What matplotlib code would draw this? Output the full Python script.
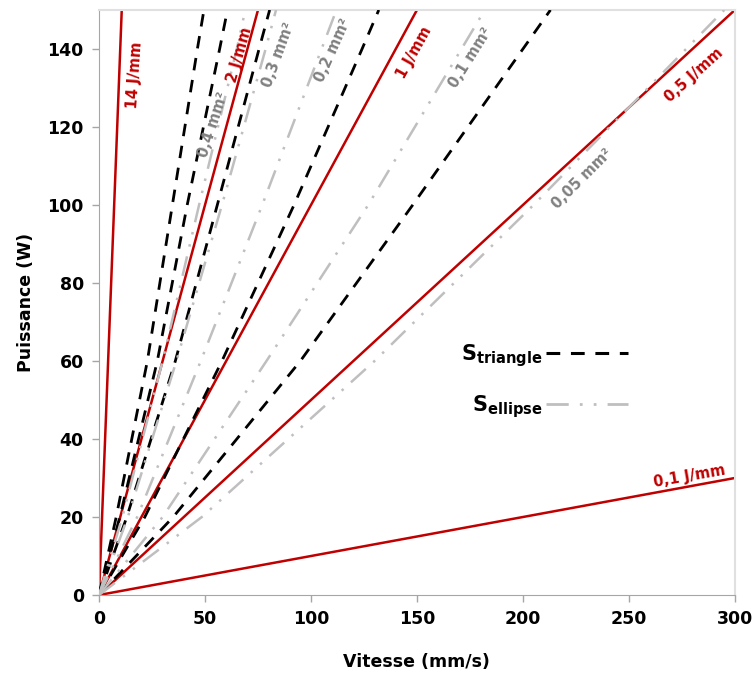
import matplotlib
matplotlib.use('Agg')
import matplotlib.pyplot as plt
from matplotlib.lines import Line2D

# power levels (W) at which the iso-area curves were read
P_levels = [0, 20, 60, 100, 140, 150]

# speed (mm/s) read at each power level, triangle model
tri_04 = [0, 8.1, 22.8, 34.6, 46.4, 49.5]
tri_03 = [0, 9.8, 27.5, 41.6, 56.9, 60.6]
tri_02 = [0, 13.1, 36.0, 55.8, 75.5, 80.5]
tri_01 = [0, 21.6, 58.0, 92.0, 124.1, 132.0]
tri_005 = [0, 35.0, 95.0, 148.0, 200.0, 213.0]

# same for the ellipse model
ell_04 = [0, 11.0, 30.0, 47.2, 65.0, 69.0]
ell_03 = [0, 13.6, 36.5, 58.0, 78.6, 83.5]
ell_02 = [0, 18.0, 48.0, 77.0, 105.0, 112.0]
ell_01 = [0, 30.0, 79.0, 127.0, 171.0, 182.0]
ell_005 = [0, 48.5, 130.0, 205.0, 277.0, 295.0]

# linear energy lines (J/mm)
energies = [14, 2, 1, 0.5, 0.1]
v_range = [0, 300]

red = '#c00000'
grey_line = '#bfbfbf'
grey_text = '#808080'
tri_style = (0, (4.5, 3.5))
ell_style = (0, (8, 4, 1, 4, 1, 4))

fig = plt.figure(figsize=(7.56, 6.75), dpi=100)
ax = fig.add_axes([0.131, 0.1185, 0.841, 0.8667])

for E in energies:
    ax.plot(v_range, [E * v for v in v_range], color=red, lw=1.8, zorder=2)

for v in [tri_04, tri_03, tri_02, tri_01, tri_005]:
    ax.plot(v, P_levels, color='black', lw=2.0, ls=tri_style, zorder=3)

for v in [ell_04, ell_03, ell_02, ell_01, ell_005]:
    ax.plot(v, P_levels, color=grey_line, lw=1.8, ls=ell_style, zorder=4)

# labels along the lines
red_labels = [('14 J/mm', 17, 133.3, 86),
              ('2 J/mm', 66.5, 138.5, 74),
              ('1 J/mm', 148.6, 139, 61),
              ('0,5 J/mm', 280.7, 133.3, 42),
              ('0,1 J/mm', 278.8, 30.5, 10)]
for txt, x, y, rot in red_labels:
    ax.text(x, y, txt, color=red, fontsize=10.5, fontweight='bold',
            rotation=rot, ha='center', va='center', zorder=5)

grey_labels = [('0,4 mm²', 53.8, 120.5, 72),
               ('0,3 mm²', 84.9, 138.5, 70),
               ('0,2 mm²', 110.4, 139.7, 66),
               ('0,1 mm²', 175.5, 137.7, 58),
               ('0,05 mm²', 227.8, 106.7, 45)]
for txt, x, y, rot in grey_labels:
    ax.text(x, y, txt, color=grey_text, fontsize=10.5, fontweight='bold',
            rotation=rot, ha='center', va='center', zorder=5)

handles = [Line2D([], [], color='black', lw=2.2, ls=tri_style),
           Line2D([], [], color=grey_line, lw=2.0, ls=ell_style)]
labels = [r'$\mathbf{S}_{\mathbf{triangle}}$', r'$\mathbf{S}_{\mathbf{ellipse}}$']
ax.legend(handles, labels, loc='center', bbox_to_anchor=(0.7, 0.366),
          markerfirst=False, frameon=False, fontsize=15, handlelength=3.9,
          handletextpad=0.2, labelspacing=1.15)

ax.set_xlim(0, 300)
ax.set_ylim(0, 150)
ax.set_xticks(range(0, 301, 50))
ax.set_yticks(range(0, 141, 20))
for lab in ax.get_xticklabels() + ax.get_yticklabels():
    lab.set_fontweight('bold')
ax.tick_params(labelsize=12.5, color='#a6a6a6', length=5, width=1, pad=6)

ax.set_xlabel('Vitesse (mm/s)', fontsize=12.5, fontweight='bold', labelpad=18)
ax.set_ylabel('Puissance (W)', fontsize=12.5, fontweight='bold', labelpad=9)

for s in ['left', 'bottom']:
    ax.spines[s].set_color('#a6a6a6')
for s in ['top', 'right']:
    ax.spines[s].set_color('#e0e0e0')
    ax.spines[s].set_linewidth(1.5)

fig.savefig('out.png', dpi=100)
